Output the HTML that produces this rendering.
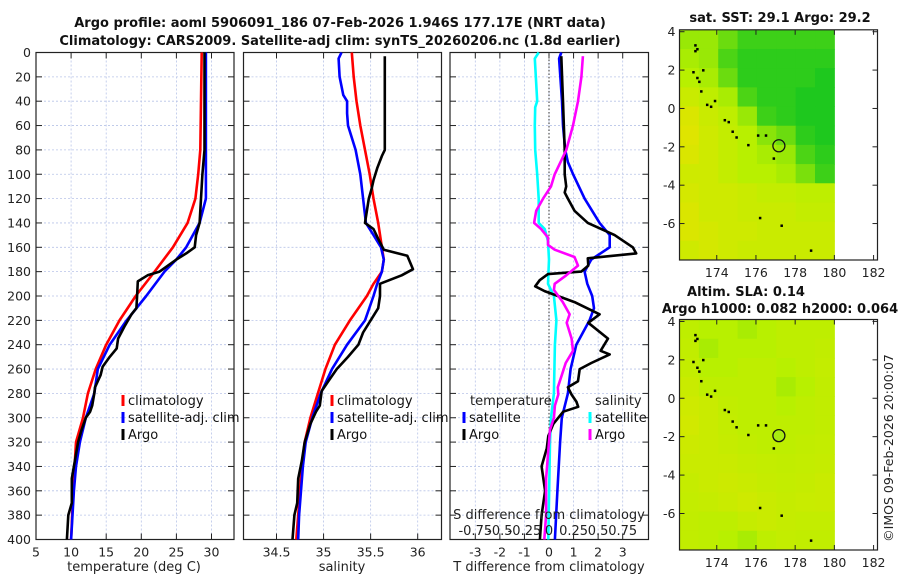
<!DOCTYPE html>
<html><head><meta charset="utf-8"><style>
html,body{margin:0;padding:0;background:#fff;}
svg{display:block;font-family:"DejaVu Sans","Liberation Sans",sans-serif;}
</style></head><body>
<svg id="fig" width="900" height="580" viewBox="0 0 900 580" xmlns="http://www.w3.org/2000/svg">
<text x="340" y="27" text-anchor="middle" font-size="13" font-weight="bold" fill="#111">Argo profile: aoml 5906091_186 07-Feb-2026 1.946S 177.17E (NRT data)</text>
<text x="340" y="45" text-anchor="middle" font-size="13" font-weight="bold" fill="#111">Climatology: CARS2009. Satellite-adj clim: synTS_20260206.nc (1.8d earlier)</text>
<text x="780" y="22" text-anchor="middle" font-size="13" font-weight="bold" fill="#111">sat. SST: 29.1 Argo: 29.2</text>
<text x="746" y="296" text-anchor="middle" font-size="13" font-weight="bold" fill="#111">Altim. SLA: 0.14</text>
<text x="780" y="313" text-anchor="middle" font-size="13" font-weight="bold" fill="#111">Argo h1000: 0.082 h2000: 0.064</text>
<text transform="translate(893,448) rotate(-90)" text-anchor="middle" font-size="12.5" fill="#222">©IMOS 09-Feb-2026 20:00:07</text>
</svg>
<script>
// ---------- data ----------
const depthTicks=[0,20,40,60,80,100,120,140,160,180,200,220,240,260,280,300,320,340,360,380,400];
const tempTicks=[5,10,15,20,25,30];
const salTicks=[34.5,35,35.5,36];
const tdiffTicks=[-3,-2,-1,0,1,2,3];
const sdiffTickLabels=["-0.75","-0.5","-0.25","0","0.25","0.5","0.75"];
const sdiffTicks=[-0.75,-0.5,-0.25,0,0.25,0.5,0.75];

const tClimDepth=[0,80,100,120,140,160,180,200,220,240,260,280,300,320,360,400];
const tClimVal=[28.6,28.4,28.1,27.7,26.6,24.5,21.9,19.2,16.9,15.0,13.5,12.4,11.7,10.7,10.3,10.0];
const tSatDepth=[0,120,140,160,170,180,200,220,240,260,280,300,320,340,360,380,400];
const tSatVal=[29.2,29.2,28.3,26.4,25.0,23.3,20.7,17.9,15.5,13.8,13.3,12.1,11.25,10.7,10.4,10.2,10.0];
const tArgoDepth=[0,80,100,120,140,150,160,165,170,175,180,183,188,200,210,215,225,235,243,250,258,265,275,280,290,295,300,310,320,330,340,350,370,380,400];
const tArgoVal=[29.0,29.0,28.7,28.5,28.3,27.8,27.6,26.4,25.0,23.8,22.6,20.9,19.5,19.4,19.3,18.6,17.6,16.7,16.5,15.5,14.5,14.2,13.4,13.3,13.0,12.7,12.1,11.5,11.0,10.7,10.4,10.1,10.1,9.6,9.4];

const sClimDepth=[0,20,40,60,80,100,120,140,160,170,180,190,200,220,240,260,280,300,320,340,360,380,400];
const sClimVal=[35.30,35.32,35.35,35.39,35.44,35.49,35.53,35.58,35.62,35.64,35.62,35.53,35.46,35.28,35.12,35.02,34.94,34.86,34.80,34.77,34.75,34.73,34.71];
const sSatDepth=[0,5,20,35,40,50,60,80,100,120,140,150,160,170,180,190,200,220,240,260,280,300,320,340,360,380,400];
const sSatVal=[35.19,35.16,35.17,35.21,35.25,35.25,35.26,35.34,35.39,35.42,35.45,35.53,35.61,35.64,35.62,35.57,35.53,35.44,35.25,35.09,34.97,34.88,34.81,34.78,34.76,34.74,34.73];
const sArgoDepth=[3,80,85,95,105,112,120,140,145,153,162,167,178,183,190,200,210,220,230,240,250,260,270,278,290,295,305,320,335,350,370,380,400];
const sArgoVal=[35.65,35.65,35.62,35.57,35.53,35.51,35.48,35.44,35.53,35.58,35.64,35.89,35.95,35.83,35.60,35.60,35.58,35.50,35.42,35.37,35.26,35.14,35.05,34.98,34.96,34.92,34.86,34.80,34.77,34.73,34.72,34.69,34.67];

const dtSatDepth=[0,5,40,60,80,90,100,120,140,150,160,170,180,190,200,210,220,240,260,280,300,320,360,400];
const dtSatVal=[0.50,0.41,0.53,0.57,0.66,0.77,0.98,1.45,2.06,2.47,2.47,1.72,1.45,1.56,1.76,1.83,1.65,1.11,0.88,0.77,0.52,0.45,0.34,0.24];
const dtArgoDepth=[3,40,80,100,110,115,120,130,140,150,160,165,169,175,180,182,187,192,196,205,215,222,235,245,248,255,260,270,275,281,287,291,295,305,315,325,340,360,380,400];
const dtArgoVal=[0.50,0.57,0.64,0.64,0.70,0.64,0.77,1.04,1.58,2.67,3.41,3.55,1.58,1.60,1.31,-0.04,-0.38,-0.56,-0.18,1.04,2.06,1.60,2.40,2.10,2.47,1.72,1.25,1.18,0.77,0.92,1.12,1.19,0.58,0.18,-0.03,-0.09,-0.30,-0.16,-0.30,-0.37];
const dsSatDepth=[0,5,40,45,60,80,100,120,140,145,155,170,190,200,220,240,260,280,300,320,400];
const dsSatVal=[-0.105,-0.145,-0.12,-0.14,-0.145,-0.14,-0.12,-0.105,-0.105,-0.044,-0.01,0.0,-0.01,0.05,0.075,0.06,0.055,0.05,0.02,0.01,-0.007];
const dsArgoDepth=[3,20,40,60,80,100,110,120,130,140,145,152,158,162,168,175,183,190,195,205,215,222,235,245,255,265,275,281,290,300,310,330,350,380,400];
const dsArgoVal=[0.345,0.33,0.295,0.244,0.176,0.058,0.02,-0.06,-0.13,-0.152,-0.08,-0.01,-0.01,0.058,0.26,0.295,0.176,0.058,0.05,0.14,0.21,0.18,0.23,0.244,0.17,0.13,0.09,0.095,0.06,0.05,0.01,-0.01,-0.03,-0.03,-0.048];

// map data
const lonTicks=[174,176,178,180,182];
const latTicks=[4,2,0,-2,-4,-6];
const sstRows=[
[0.6,0.6,0.75,0.9,0.9,0.9,0.9,0.9],
[0.55,0.6,0.85,0.95,0.95,0.95,0.95,0.95],
[0.5,0.55,0.75,0.95,0.95,0.95,0.95,1],
[0.35,0.45,0.55,0.85,0.95,0.95,1,1],
[0.2,0.35,0.45,0.6,0.9,0.95,1,1],
[0.15,0.3,0.4,0.5,0.65,0.75,0.95,1],
[0.2,0.3,0.4,0.5,0.55,0.6,0.85,0.95],
[0.3,0.3,0.4,0.5,0.5,0.55,0.7,0.9],
[0.25,0.3,0.3,0.35,0.4,0.4,0.45,0.45],
[0.2,0.3,0.3,0.35,0.35,0.35,0.4,0.4],
[0.2,0.25,0.3,0.3,0.35,0.35,0.35,0.35],
[0.3,0.25,0.3,0.35,0.35,0.35,0.35,0.35]];
const slaRows=[
[0.45,0.5,0.5,0.55,0.5,0.45,0.45,0.45],
[0.42,0.55,0.5,0.5,0.5,0.45,0.45,0.42],
[0.4,0.5,0.5,0.45,0.45,0.5,0.45,0.4],
[0.35,0.45,0.45,0.45,0.45,0.55,0.5,0.42],
[0.3,0.35,0.42,0.45,0.45,0.5,0.45,0.42],
[0.28,0.35,0.4,0.45,0.45,0.45,0.45,0.42],
[0.32,0.35,0.38,0.42,0.45,0.45,0.42,0.4],
[0.35,0.35,0.35,0.38,0.4,0.42,0.4,0.38],
[0.38,0.35,0.32,0.35,0.38,0.4,0.38,0.35],
[0.4,0.38,0.35,0.3,0.35,0.38,0.36,0.35],
[0.42,0.45,0.45,0.38,0.35,0.38,0.4,0.4],
[0.42,0.45,0.5,0.55,0.45,0.4,0.42,0.42]];
const islandLon=[172.9,173.0,172.8,173.0,173.1,173.3,173.5,173.7,173.9,174.4,174.6,174.8,175.0,175.6,176.1,176.5,176.9,176.2,177.3,178.8,173.2,172.9];
const islandLat=[3.3,3.1,1.9,1.6,1.4,2.0,0.2,0.1,0.4,-0.6,-0.7,-1.2,-1.5,-1.9,-1.4,-1.4,-2.6,-5.7,-6.1,-7.4,0.9,3.0];
const argoLon=177.17, argoLat=-1.946;

// ---------- helpers ----------
const svg=document.getElementById('fig');
const NS="http://www.w3.org/2000/svg";
function mk(tag,attrs,parent){const e=document.createElementNS(NS,tag);for(const k in attrs)e.setAttribute(k,attrs[k]);(parent||svg).appendChild(e);return e;}
const TOP=52.5,BOT=539.5;
function yD(d){return TOP+(d/400)*(BOT-TOP);}
function scale(d0,d1,p0,p1){return v=>p0+(v-d0)/(d1-d0)*(p1-p0);}

function panel(name,x0,x1,xs,ticks,tickLabels,showY){
  const g=mk('g',{});
  
  
  ticks.forEach(t=>{const x=xs(t);const l=mk('line',{x1:x,x2:x,y1:TOP,y2:BOT,stroke:'#b8c4e8','stroke-width':0.8,'stroke-dasharray':'2,2'},g);
    });
  depthTicks.forEach(d=>{const y=yD(d);const l=mk('line',{x1:x0,x2:x1,y1:y,y2:y,stroke:'#b8c4e8','stroke-width':0.8,'stroke-dasharray':'2,2'},g);
    
    mk('line',{x1:x0,x2:x0+6,y1:y,y2:y,stroke:'#222'},g);mk('line',{x1:x1-6,x2:x1,y1:y,y2:y,stroke:'#222'},g);
    if(showY){const t=mk('text',{x:x0-5,y:y+4.5,'text-anchor':'end','font-size':12.5,fill:'#222'},g);t.textContent=d;
      }});
  ticks.forEach((t,i)=>{const x=xs(t);mk('line',{x1:x,x2:x,y1:BOT-6,y2:BOT,stroke:'#222'},g);mk('line',{x1:x,x2:x,y1:TOP,y2:TOP+6,stroke:'#222'},g);
    const tx=mk('text',{x:x,y:BOT+17,'text-anchor':'middle','font-size':12.5,fill:'#222'},g);tx.textContent=tickLabels[i];
    });
  const r=mk('rect',{x:x0,y:TOP,width:x1-x0,height:BOT-TOP,fill:'none',stroke:'#222','stroke-width':1.2},g);
  
  return g;
}
function series(g,name,depths,vals,xs,color,w){
  const pts=depths.map((d,i)=>xs(vals[i]).toFixed(1)+','+yD(d).toFixed(1)).join(' ');
  const p=mk('polyline',{points:pts,fill:'none',stroke:color,'stroke-width':w||2.6,'stroke-linejoin':'round'},g);
  
  
}
function legendEntry(g,name,x,y,color,label){
  const e=mk('g',{},g);
  
  
  mk('line',{x1:x,x2:x,y1:y-10,y2:y+1,stroke:color,'stroke-width':3},e);
  const t=mk('text',{x:x+5,y:y,'font-size':13,fill:'#111'},e);t.textContent=label;
}
function label(text,x,y,name,anchor){const t=mk('text',{x:x,y:y,'text-anchor':anchor||'middle','font-size':13,fill:'#222'});t.textContent=text;
  }

// ---------- panel 1: temperature ----------
const xT=scale(5,30,36,211.5);
const g1=panel('temperature-panel',36,234,xT,tempTicks,tempTicks.map(String),true);
series(g1,'temperature-climatology-line',tClimDepth,tClimVal,xT,'#ff0000');
series(g1,'temperature-satellite-line',tSatDepth,tSatVal,xT,'#0000ff');
series(g1,'temperature-argo-line',tArgoDepth,tArgoVal,xT,'#000000');
legendEntry(g1,'legend-climatology',123,405,'#ff0000','climatology');
legendEntry(g1,'legend-satellite-adj',123,422,'#0000ff','satellite-adj. clim');
legendEntry(g1,'legend-argo',123,439,'#000000','Argo');
label('temperature (deg C)',134,571,'x-axis-title-temperature');

// ---------- panel 2: salinity ----------
const xS=scale(34.5,36,276.5,417.7);
const g2=panel('salinity-panel',243.5,441.5,xS,salTicks,salTicks.map(String),false);
series(g2,'salinity-climatology-line',sClimDepth,sClimVal,xS,'#ff0000');
series(g2,'salinity-satellite-line',sSatDepth,sSatVal,xS,'#0000ff');
series(g2,'salinity-argo-line',sArgoDepth,sArgoVal,xS,'#000000');
legendEntry(g2,'legend-climatology-2',332,405,'#ff0000','climatology');
legendEntry(g2,'legend-satellite-adj-2',332,422,'#0000ff','satellite-adj. clim');
legendEntry(g2,'legend-argo-2',332,439,'#000000','Argo');
label('salinity',342,571,'x-axis-title-salinity');

// ---------- panel 3: differences ----------
const xDT=scale(0,3,549,622.7);
const xDS=v=>xDT(v*4);
const g3=panel('difference-panel',450,648.5,xDT,tdiffTicks,tdiffTicks.map(String),false);
const zl=mk('line',{x1:xDT(0),x2:xDT(0),y1:TOP,y2:BOT,stroke:'#333','stroke-width':1,'stroke-dasharray':'1.5,2'},g3);


series(g3,'salinity-satellite-diff-line',dsSatDepth,dsSatVal,xDS,'#00ffff');
series(g3,'temperature-satellite-diff-line',dtSatDepth,dtSatVal,xDT,'#0000ff');
series(g3,'temperature-argo-diff-line',dtArgoDepth,dtArgoVal,xDT,'#000000');
series(g3,'salinity-argo-diff-line',dsArgoDepth,dsArgoVal,xDS,'#ff00ff');
label('temperature',470,405,'legend-temperature-header','start');
label('salinity',595,405,'legend-salinity-header','start');
legendEntry(g3,'legend-temp-satellite',464,422,'#0000ff','satellite');
legendEntry(g3,'legend-temp-argo',464,439,'#000000','Argo');
legendEntry(g3,'legend-sal-satellite',590,422,'#00ffff','satellite');
legendEntry(g3,'legend-sal-argo',590,439,'#ff00ff','Argo');
label('S difference from climatology',549,519,'s-diff-axis-title');
sdiffTicks.forEach((s,i)=>{const t=mk('text',{x:xDS(s),y:535,'text-anchor':'middle','font-size':13,fill:'#222'});t.textContent=sdiffTickLabels[i];
  });
label('T difference from climatology',549,571,'x-axis-title-tdiff');

// ---------- maps ----------
function cmap(v){ // yellow -> lime -> green
  const a=[240,224,0],b=[184,240,0],c=[30,200,30];
  let p,q,t; if(v<0.5){p=a;q=b;t=v/0.5;}else{p=b;q=c;t=(v-0.5)/0.5;}
  return 'rgb('+p.map((x,i)=>Math.round(x+(q[i]-x)*t)).join(',')+')';
}
function map(name,top,bottom,rows,circleFill){
  const g=mk('g',{});
  
  
  const x0=679.5,x1=877.5;
  const lon=scale(172.1,182.2,x0,x1);
  const lat=scale(4.1,-7.9,top,bottom);
  rows.forEach((row,ri)=>row.forEach((v,ci)=>{
    const la=4.1-ri, lo=172.1+ci*(7.9/8);
    const c=mk('rect',{x:lon(lo),y:lat(la),width:lon(lo+7.9/8)-lon(lo)+0.5,height:lat(la-1)-lat(la)+0.5,fill:cmap(v)},g);
    
    
  }));
  islandLon.forEach((lo,i)=>{const d=mk('rect',{x:lon(lo)-1,y:lat(islandLat[i])-1,width:2.5,height:2.5,fill:'#000'},g);
    });
  const ci=mk('circle',{cx:lon(argoLon),cy:lat(argoLat),r:6,fill:circleFill,stroke:'#111','stroke-width':1.3},g);
  
  
  latTicks.forEach(t=>{const y=lat(t);mk('line',{x1:x0,x2:x0+5,y1:y,y2:y,stroke:'#222'},g);mk('line',{x1:x1-5,x2:x1,y1:y,y2:y,stroke:'#222'},g);
    const tx=mk('text',{x:x0-4,y:y+4.5,'text-anchor':'end','font-size':12.5,fill:'#222'},g);tx.textContent=t;
    });
  lonTicks.forEach(t=>{const x=lon(t);mk('line',{x1:x,x2:x,y1:bottom-5,y2:bottom,stroke:'#222'},g);mk('line',{x1:x,x2:x,y1:top,y2:top+5,stroke:'#222'},g);
    const tx=mk('text',{x:x,y:bottom+17,'text-anchor':'middle','font-size':12.5,fill:'#222'},g);tx.textContent=t;
    });
  const r=mk('rect',{x:x0,y:top,width:x1-x0,height:bottom-top,fill:'none',stroke:'#222','stroke-width':1.2},g);
  
}
map('sst-map',29.8,260,sstRows,'none');
map('sla-map',319.5,550,slaRows,'#a8ec10');
</script>
</body></html>
